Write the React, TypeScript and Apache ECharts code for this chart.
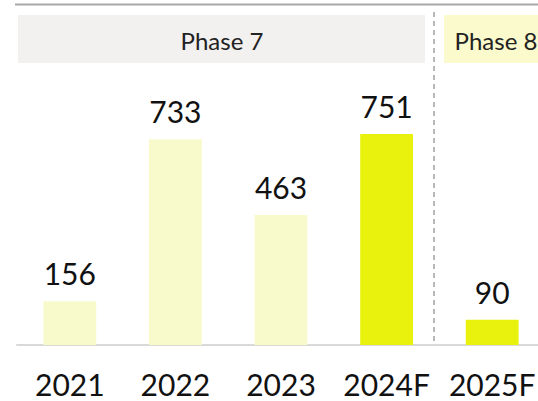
import React, { useEffect, useRef } from "react";
import * as echarts from "echarts";

const categories = ["2021", "2022", "2023", "2024F", "2025F"];
const values = [156, 733, 463, 751, 90];
const highlighted = [false, false, false, true, true];
const phaseLabels = ["Phase 7", "Phase 8"];

const FONT = "Lato, 'Noto Sans', sans-serif";
const LIGHT = "#f9facc";
const BRIGHT = "#e8f20c";

export default function App() {
  const ref = useRef<HTMLDivElement>(null);
  useEffect(() => {
    document.body.style.margin = "0";
    if (!ref.current) return;
    const chart = echarts.init(ref.current, undefined, { renderer: "svg" });
    const option = {
      animation: false,
      backgroundColor: "#ffffff",
      grid: {
        left: 17,
        width: 528,
        top: 8,
        bottom: 56,
        containLabel: false,
        outerBoundsMode: "none",
      },
      xAxis: {
        type: "category",
        data: categories,
        offset: 2,
        axisLine: { show: true, lineStyle: { color: "#d9d9d9", width: 2 } },
        axisTick: { show: false },
        axisLabel: {
          interval: 0,
          hideOverlap: false,
          color: "#111111",
          fontFamily: FONT,
          fontSize: 30,
          lineHeight: 30,
          margin: 22,
        },
      },
      yAxis: {
        type: "value",
        min: 0,
        max: 1200,
        show: false,
        splitLine: { show: false },
      },
      series: [
        {
          type: "bar",
          barWidth: "50%",
          data: values.map((v, i) => ({
            value: v,
            itemStyle: { color: highlighted[i] ? BRIGHT : LIGHT },
          })),
          label: {
            show: true,
            position: "top",
            distance: 13,
            color: "#111111",
            fontFamily: FONT,
            fontSize: 30,
          },
        },
      ],
      graphic: [
        {
          type: "line",
          shape: { x1: 15, y1: 4.5, x2: 538, y2: 4.5 },
          style: { stroke: "#a8a8a8", lineWidth: 2 },
          silent: true,
        },
        {
          type: "rect",
          shape: { x: 18, y: 15, width: 407, height: 48 },
          style: { fill: "#f2f1ef" },
          silent: true,
        },
        {
          type: "text",
          x: 222,
          y: 40,
          style: {
            text: phaseLabels[0],
            fill: "#222222",
            fontSize: 24,
            fontFamily: FONT,
            align: "center",
            verticalAlign: "middle",
          },
          silent: true,
        },
        {
          type: "rect",
          shape: { x: 444, y: 15, width: 104, height: 48 },
          style: { fill: "#fafacc" },
          silent: true,
        },
        {
          type: "text",
          x: 496,
          y: 40,
          style: {
            text: phaseLabels[1],
            fill: "#222222",
            fontSize: 24,
            fontFamily: FONT,
            align: "center",
            verticalAlign: "middle",
          },
          silent: true,
        },
        {
          type: "line",
          shape: { x1: 434, y1: 12, x2: 434, y2: 345 },
          style: { stroke: "#8a8a8a", lineWidth: 1.2, lineDash: [5, 4] },
          silent: true,
        },
      ],
    };
    chart.setOption(option as any);
    return () => chart.dispose();
  }, []);
  return <div ref={ref} style={{ width: 538, height: 401 }} />;
}
